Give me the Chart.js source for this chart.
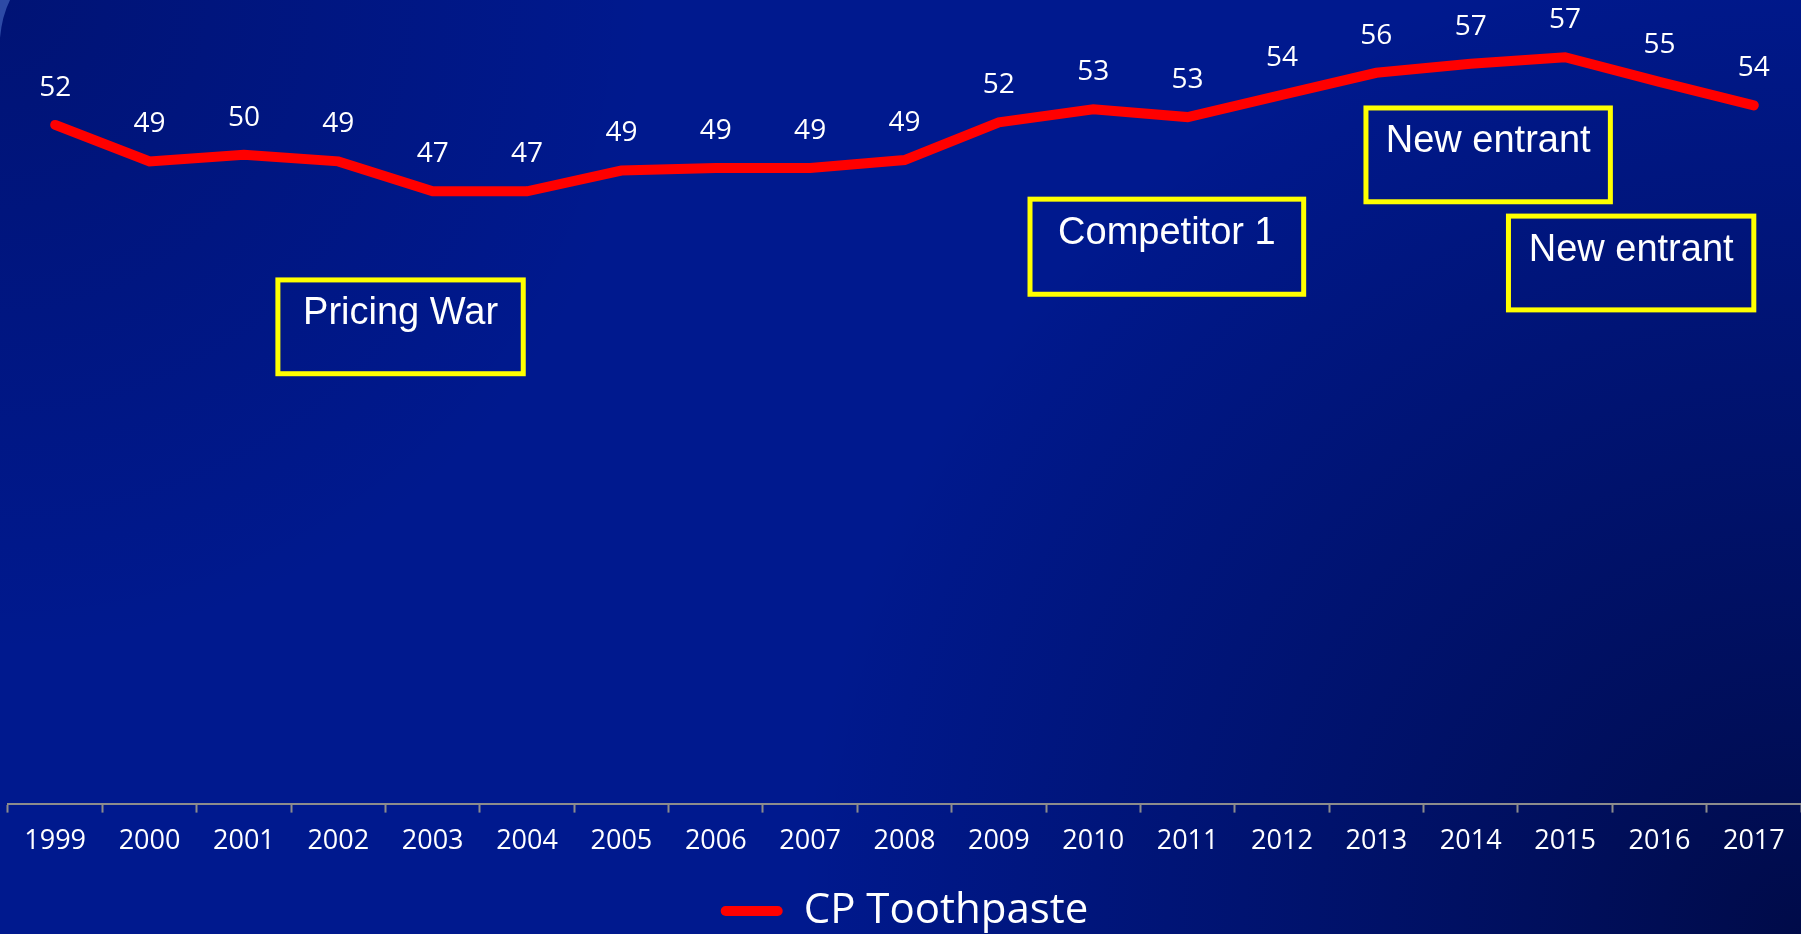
<!DOCTYPE html>
<html lang="en">
<head>
    <meta charset="UTF-8">
    <title>CP Toothpaste</title>
    <script src="https://cdn.jsdelivr.net/npm/chart.js"></script>
    <style>
        html, body {
            margin: 0;
            padding: 0;
            overflow: hidden;
            background-color: #00168a;
        }
        .chart-box {
            width: 1801px;
            height: 934px;
            position: relative;
        }
    </style>
</head>
<body>
    <div class="chart-box">
        <canvas id="shareChart"></canvas>
    </div>

    <script>
        // data
        const years = ['1999', '2000', '2001', '2002', '2003', '2004', '2005', '2006', '2007', '2008',
                       '2009', '2010', '2011', '2012', '2013', '2014', '2015', '2016', '2017'];
        const cpShare = [52.1, 49.3, 49.8, 49.3, 47.0, 47.0, 48.6, 48.8, 48.8, 49.4,
                         52.3, 53.3, 52.7, 54.4, 56.1, 56.8, 57.3, 55.4, 53.6];
        const seriesName = 'CP Toothpaste';

        // callout boxes, placed in category index / value units
        const notes = [
            { text: 'Pricing War',  x0: 2.36,  x1: 4.96,  y0: 40.2, y1: 33.0 },
            { text: 'Competitor 1', x0: 10.33, x1: 13.23, y0: 46.4, y1: 39.1 },
            { text: 'New entrant',  x0: 13.89, x1: 16.48, y0: 53.4, y1: 46.2 },
            { text: 'New entrant',  x0: 15.40, x1: 18.00, y0: 45.1, y1: 37.9 }
        ];

        const background = {
            id: 'background',
            beforeDraw(chart) {
                const ctx = chart.ctx;
                const w = chart.width, h = chart.height;
                ctx.save();
                ctx.fillStyle = '#00198e';
                ctx.fillRect(0, 0, w, h);
                // darker towards the bottom-right corner
                let g = ctx.createRadialGradient(w, h, 0, w, h, 1000);
                g.addColorStop(0, 'rgba(0, 6, 50, 0.75)');
                g.addColorStop(0.5, 'rgba(0, 8, 60, 0.4)');
                g.addColorStop(1, 'rgba(0, 8, 60, 0)');
                ctx.fillStyle = g;
                ctx.fillRect(0, 0, w, h);
                // slightly darker top-left
                g = ctx.createRadialGradient(0, 0, 0, 0, 0, 650);
                g.addColorStop(0, 'rgba(0, 8, 70, 0.35)');
                g.addColorStop(1, 'rgba(0, 8, 70, 0)');
                ctx.fillStyle = g;
                ctx.fillRect(0, 0, w, h);
                // light sliver in the top-left corner
                ctx.beginPath();
                ctx.moveTo(0, 0);
                ctx.lineTo(10, 0);
                ctx.quadraticCurveTo(2, 16, 0, 38);
                ctx.closePath();
                ctx.fillStyle = '#2d4aa6';
                ctx.fill();
                ctx.restore();
            }
        };

        const pointLabels = {
            id: 'pointLabels',
            afterDatasetsDraw(chart) {
                const ctx = chart.ctx;
                const meta = chart.getDatasetMeta(0);
                const values = chart.data.datasets[0].data;
                ctx.save();
                ctx.fillStyle = '#ffffff';
                ctx.font = '28px "Open Sans"';
                ctx.textAlign = 'center';
                ctx.textBaseline = 'middle';
                meta.data.forEach((pt, i) => {
                    ctx.fillText(String(Math.round(values[i])), pt.x, pt.y - 37);
                });
                ctx.restore();
            }
        };

        const callouts = {
            id: 'callouts',
            afterDraw(chart) {
                const ctx = chart.ctx;
                const xs = chart.scales.x, ys = chart.scales.y;
                ctx.save();
                notes.forEach(n => {
                    const left = xs.getPixelForValue(n.x0);
                    const right = xs.getPixelForValue(n.x1);
                    const top = ys.getPixelForValue(n.y0);
                    const bottom = ys.getPixelForValue(n.y1);
                    ctx.lineWidth = 5;
                    ctx.strokeStyle = '#ffff00';
                    ctx.strokeRect(left, top, right - left, bottom - top);
                    ctx.fillStyle = '#ffffff';
                    ctx.font = '38px "Liberation Sans"';
                    ctx.textAlign = 'center';
                    ctx.textBaseline = 'middle';
                    ctx.fillText(n.text, (left + right) / 2, top + 34);
                });
                ctx.restore();
            }
        };

        new Chart(document.getElementById('shareChart'), {
            type: 'line',
            data: {
                labels: years,
                datasets: [{
                    label: seriesName,
                    data: cpShare,
                    borderColor: '#ff0000',
                    backgroundColor: '#ff0000',
                    borderWidth: 10,
                    borderCapStyle: 'round',
                    borderJoinStyle: 'miter',
                    pointRadius: 0,
                    pointHoverRadius: 0,
                    tension: 0,
                    fill: false
                }]
            },
            options: {
                responsive: true,
                maintainAspectRatio: false,
                animation: false,
                events: [],
                layout: {
                    padding: { top: 22, left: 8, right: 0, bottom: -8 }
                },
                scales: {
                    x: {
                        offset: true,
                        grid: {
                            offset: true,
                            drawOnChartArea: false,
                            drawTicks: true,
                            tickLength: 9,
                            tickWidth: 2,
                            tickColor: '#8c8c8c'
                        },
                        border: { display: true, color: '#8c8c8c', width: 2 },
                        ticks: {
                            color: '#ffffff',
                            padding: 13,
                            maxRotation: 0,
                            autoSkip: false,
                            font: { family: 'Open Sans', size: 27 }
                        },
                        afterFit(scale) {
                            scale.height += 19;
                        }
                    },
                    y: {
                        display: false,
                        min: 0,
                        max: 60
                    }
                },
                plugins: {
                    tooltip: { enabled: false },
                    legend: {
                        position: 'bottom',
                        labels: {
                            color: '#ffffff',
                            boxWidth: 62,
                            boxHeight: 10,
                            padding: 0,
                            font: { family: 'Open Sans', size: 42 },
                            generateLabels: () => [{
                                text: seriesName,
                                fillStyle: '#ff0000',
                                strokeStyle: '#ff0000',
                                lineWidth: 0,
                                borderRadius: 5,
                                fontColor: '#ffffff',
                                datasetIndex: 0
                            }],
                            useBorderRadius: true,
                            borderRadius: 5
                        }
                    }
                }
            },
            plugins: [background, pointLabels, callouts]
        });
    </script>
</body>
</html>
